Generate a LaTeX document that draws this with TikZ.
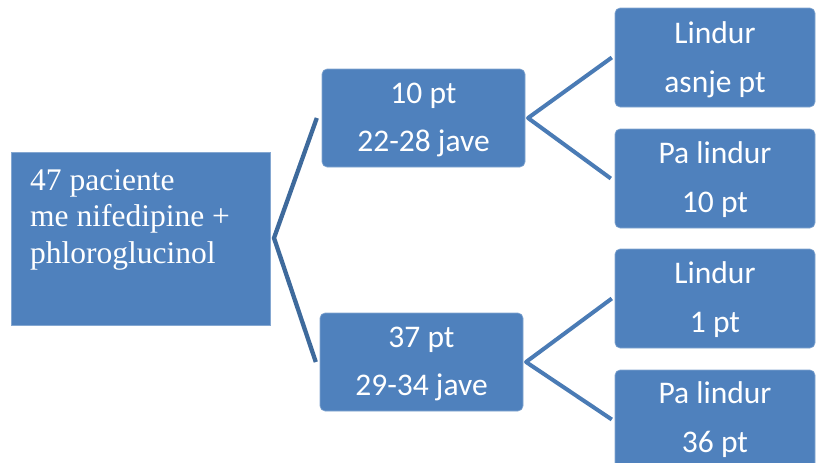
\documentclass[tikz,border=0pt]{standalone}
\usepackage{fontspec}
\setmainfont{Liberation Serif}
\newfontfamily\boxfont{Carlito}
\definecolor{boxblue}{HTML}{4F81BD}
\definecolor{linkdark}{HTML}{3E6A9C}
\definecolor{linkblue}{HTML}{4A7BB5}
\begin{document}
\begin{tikzpicture}[x=1pt,y=-1pt,
  bluebox/.style={fill=boxblue,draw=boxblue!70!white,line width=0.6pt,inner sep=0pt,rounded corners=5pt},
  sqbox/.style={fill=boxblue,draw=boxblue!70!white,line width=0.6pt,inner sep=0pt},
  lbl/.style={anchor=base,text=white,inner sep=0pt,font=\boxfont\fontsize{31.5}{36}\selectfont},
  serlbl/.style={anchor=base west,text=white,inner sep=0pt,font=\fontsize{31.5}{36}\selectfont},
  linkL/.style={draw=linkdark,line width=4.3pt,line join=round},
  linkR/.style={draw=linkblue,line width=4pt,line join=round}]
\useasboundingbox (0,0) rectangle (817,463);
\clip (0,0) rectangle (817,463);
\fill[white] (0,0) rectangle (817,463);
% boxes
\path[sqbox] (11,152) rectangle (270,325);
\node[inner sep=0pt,minimum width=259pt,minimum height=173pt] (root) at (140.5,238.5) {};
\path[bluebox] (322,69) rectangle (525,167);
\node[inner sep=0pt,minimum width=203pt,minimum height=98pt] (mid1) at (423.5,118) {};
\path[bluebox] (320,313) rectangle (523,411);
\node[inner sep=0pt,minimum width=203pt,minimum height=98pt] (mid2) at (421.5,362) {};
\path[bluebox] (615,8) rectangle (815,107);
\node[inner sep=0pt,minimum width=200pt,minimum height=99pt] (r1) at (715,57.5) {};
\path[bluebox] (615,129) rectangle (815,228);
\node[inner sep=0pt,minimum width=200pt,minimum height=99pt] (r2) at (715,178.5) {};
\path[bluebox] (615,249) rectangle (815,348);
\node[inner sep=0pt,minimum width=200pt,minimum height=99pt] (r3) at (715,298.5) {};
\path[bluebox] (615,370) rectangle (815,469);
\node[inner sep=0pt,minimum width=200pt,minimum height=99pt] (r4) at (715,419.5) {};
% texts
\node[serlbl] (t0a) at (30,190) {47 paciente};
\node[serlbl] (t0b) at (30,226.5) {me nifedipine +};
\node[serlbl] (t0c) at (30,263) {phloroglucinol};
\node[lbl] (t1a) at (423.5,103) {10 pt};
\node[lbl] (t1b) at (423.5,151) {22-28 jave};
\node[lbl] (t2a) at (421.5,347) {37 pt};
\node[lbl] (t2b) at (421.5,395) {29-34 jave};
\node[lbl] (t3a) at (715,43) {Lindur};
\node[lbl] (t3b) at (715,92) {asnje pt};
\node[lbl] (t4a) at (715,163) {Pa lindur};
\node[lbl] (t4b) at (715,212) {10 pt};
\node[lbl] (t5a) at (715,283) {Lindur};
\node[lbl] (t5b) at (715,332) {1 pt};
\node[lbl] (t6a) at (715,403) {Pa lindur};
\node[lbl] (t6b) at (715,452) {36 pt};
% connectors
\coordinate (j0) at (274,238);
\coordinate (j1) at (528,118);
\coordinate (j2) at (526,362);
\draw[linkL] ([xshift=-5pt]mid1.west) -- (j0) -- ([xshift=-4pt]mid2.west);
\draw[linkR] ([xshift=-3pt]r1.west) -- (j1) -- ([xshift=-4pt]r2.west);
\draw[linkR] ([xshift=-3pt]r3.west) -- (j2) -- ([xshift=-3pt]r4.west);
\end{tikzpicture}
\end{document}
